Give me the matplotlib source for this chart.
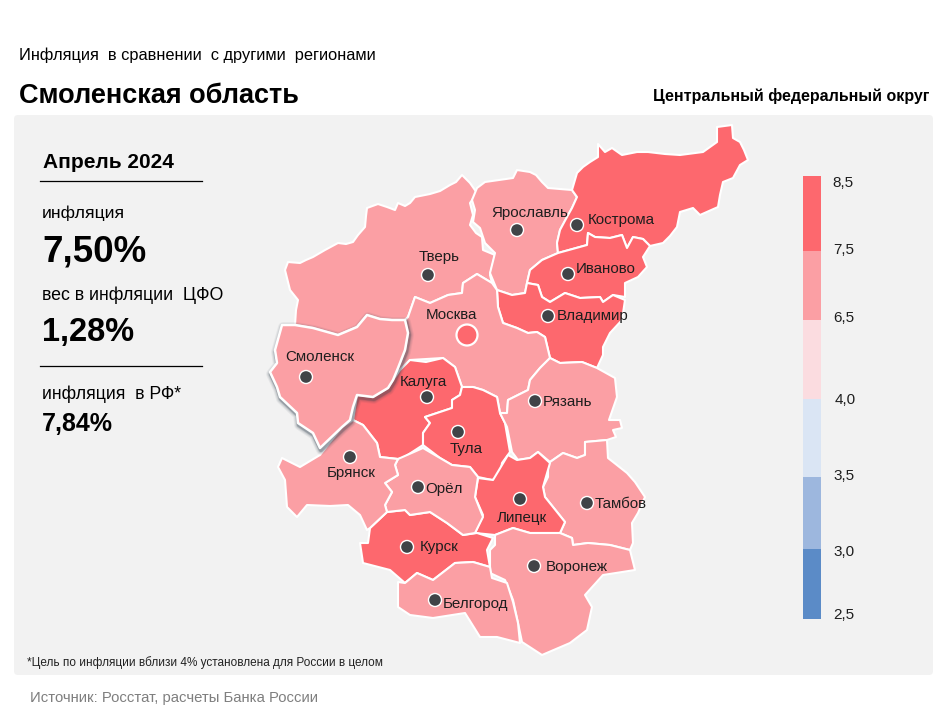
import matplotlib
matplotlib.use("Agg")
import matplotlib.pyplot as plt
from matplotlib.patches import Polygon, Rectangle, FancyBboxPatch, Circle
import numpy as np

plt.rcParams['font.family'] = ['Liberation Sans', 'DejaVu Sans']

# ---- data ----
legend_edges = [2.5, 3.0, 3.5, 4.0, 6.5, 7.5, 8.5]
legend_labels = ["2,5", "3,0", "3,5", "4,0", "6,5", "7,5", "8,5"]
legend_colors = ["#5B8BC7", "#9DB7DE", "#DAE5F4", "#FBDCE0", "#FB9FA4", "#FD686E"]
legend_seg_y = [619, 549, 477, 399, 320, 251, 176]
legend_lab_y = [615, 552, 476, 400, 318, 250, 183]
legend_lab_x = [844, 844, 844, 845, 844, 844, 843]

regions = ["Тверь", "Ярославль", "Кострома", "Иваново", "Владимир", "Москва", "Калуга", "Тула",
           "Рязань", "Тамбов", "Липецк", "Воронеж", "Курск", "Белгород", "Орёл", "Брянск", "Смоленск"]
values = [7.2, 7.1, 7.9, 7.8, 7.7, 7.3, 8.0, 7.9, 7.2, 7.0, 7.8, 7.1, 8.0, 7.0, 7.2, 7.3, 7.5]

tver = [(285,270),(288,262),(300,263),(306,260),(313,257),(325,250),(338,243),(346,244),(353,242),(358,235),(365,227),(366,216),(367,208),(378,204),(387,207),(395,210),(398,203),(405,206),(410,203),(415,197),(430,194),(440,191),(450,185),(456,182),(462,175),(470,183),(477,193),(470,203),(473,215),(470,225),(476,233),(482,237),(483,250),(495,255),(490,275),(492,283),(487,280),(477,274),(463,283),(462,293),(448,295),(430,303),(415,297),(408,317),(405,320),(392,320),(380,319),(367,315),(357,327),(338,335),(313,328),(295,325),(296,310),(298,300),(290,290)]
yaroslavl = [(472,200),(477,188),(485,182),(499,180),(513,178),(517,170),(530,172),(536,175),(542,182),(548,188),(560,189),(572,190),(577,197),(572,208),(567,217),(560,230),(557,243),(558,253),(542,260),(530,270),(527,283),(525,293),(512,295),(503,292),(497,290),(490,273),(495,253),(485,243),(480,228),(473,222),(475,210)]
kostroma = [(572,190),(577,173),(583,167),(590,162),(598,157),(598,144),(605,152),(612,148),(622,155),(637,152),(648,152),(665,154),(680,155),(703,152),(717,142),(717,127),(732,125),(733,138),(740,142),(744,150),(748,160),(740,165),(733,178),(723,182),(720,195),(718,207),(700,215),(693,208),(680,212),(677,227),(670,236),(663,243),(650,246),(643,239),(633,237),(627,248),(622,235),(610,238),(595,237),(588,233),(587,245),(558,253),(557,243),(560,230),(567,217),(572,208),(577,197)]
ivanovo = [(558,253),(587,245),(588,233),(595,237),(610,238),(622,235),(627,248),(633,237),(643,239),(650,246),(643,257),(647,267),(638,277),(625,283),(625,297),(613,295),(603,302),(600,297),(580,298),(565,293),(550,302),(542,297),(538,285),(527,283),(530,270),(542,260)]
vladimir = [(497,290),(503,292),(512,295),(525,293),(527,283),(538,285),(542,297),(550,302),(565,293),(580,298),(600,297),(603,302),(613,295),(625,300),(622,320),(610,333),(603,347),(603,355),(597,368),(582,362),(560,363),(550,358),(545,337),(537,332),(528,333),(517,328),(503,323),(498,307)]
moscow = [(405,320),(408,317),(415,297),(430,303),(448,295),(462,293),(463,283),(477,274),(487,280),(492,283),(497,290),(498,307),(503,323),(517,328),(528,333),(537,332),(545,337),(550,358),(540,368),(530,380),(528,390),(508,400),(507,413),(500,413),(497,397),(483,390),(473,387),(462,387),(455,367),(443,358),(410,360),(400,370),(393,380),(398,368),(405,350),(408,333)]
kaluga = [(393,380),(400,370),(410,360),(426,362),(443,358),(455,367),(462,387),(460,395),(452,400),(452,408),(440,412),(425,417),(430,423),(423,433),(423,445),(403,458),(398,459),(380,457),(377,443),(363,425),(353,420),(357,395),(373,397),(388,388)]
tula = [(462,387),(473,387),(483,390),(497,397),(500,413),(505,423),(510,452),(502,463),(500,477),(492,480),(478,477),(470,467),(452,465),(440,458),(423,445),(423,433),(430,423),(425,417),(440,412),(452,408),(452,400),(460,395)]
ryazan = [(507,413),(508,400),(528,390),(530,380),(540,368),(550,358),(560,363),(582,362),(597,368),(615,378),(617,397),(609,420),(620,420),(622,428),(613,430),(616,437),(607,440),(585,442),(585,455),(577,458),(563,453),(550,462),(538,452),(530,458),(518,460),(512,452),(507,427),(505,423),(500,413)]
tambov = [(548,463),(550,462),(563,453),(577,458),(585,455),(585,442),(607,440),(608,458),(627,473),(635,482),(645,497),(638,513),(632,523),(633,543),(630,550),(610,545),(588,543),(573,545),(572,538),(560,533),(565,522),(545,497),(543,487),(548,477)]
lipetsk = [(475,533),(483,515),(475,497),(478,478),(493,480),(502,465),(508,455),(517,460),(530,458),(538,452),(550,463),(543,487),(545,497),(565,522),(560,533),(530,533),(513,528),(495,535)]
voronezh = [(495,535),(513,528),(530,533),(560,533),(572,538),(573,545),(588,543),(610,545),(630,550),(635,570),(603,575),(585,595),(592,607),(587,630),(570,643),(542,655),(522,642),(518,623),(513,600),(505,580),(490,573),(490,550),(495,545)]
kursk = [(370,528),(387,512),(405,510),(410,515),(430,512),(447,523),(463,535),(477,533),(493,538),(487,550),(490,567),(473,562),(455,563),(433,580),(417,573),(405,583),(390,570),(363,563),(360,543),(368,543)]
belgorod = [(398,582),(405,583),(417,573),(433,580),(455,563),(473,562),(490,567),(492,578),(507,583),(513,602),(518,623),(520,643),(497,637),(480,637),(465,613),(433,618),(410,615),(398,607)]
oryol = [(398,459),(423,448),(440,458),(452,465),(470,467),(478,477),(475,497),(483,517),(475,533),(463,535),(447,523),(430,512),(410,515),(405,510),(387,512),(385,505),(392,492),(385,483),(398,475),(395,465)]
bryansk = [(278,467),(282,458),(300,467),(320,455),(342,427),(353,420),(363,425),(377,443),(380,457),(398,459),(395,465),(398,475),(385,483),(392,492),(385,505),(387,512),(370,528),(367,530),(360,515),(348,505),(330,506),(307,505),(297,517),(287,507),(285,480)]
smolensk = [(282,325),(295,325),(313,328),(338,335),(357,327),(367,315),(380,319),(392,320),(405,320),(408,333),(405,350),(398,368),(393,380),(388,388),(373,397),(357,395),(353,407),(350,420),(342,427),(320,448),(313,433),(298,423),(297,413),(280,397),(277,387),(270,372),(277,363),(275,350)]
shapes = [tver, yaroslavl, kostroma, ivanovo, vladimir, moscow, kaluga, tula, ryazan, tambov,
          lipetsk, voronezh, kursk, belgorod, oryol, bryansk, smolensk]

dot_x = [428, 517, 577, 568, 548, 467, 427, 458, 535, 587, 520, 534, 407, 435, 418, 350, 306]
dot_y = [275, 230, 225, 274, 316, 335, 397, 432, 401, 503, 499, 566, 547, 600, 487, 457, 377]
lab_x = [439, 530, 621, 606, 593, 451, 423, 466, 568, 621, 522, 577, 439, 476, 444, 351, 320]
lab_y = [257, 213, 220, 269, 316, 315, 382, 449, 402, 504, 518, 567, 547, 604, 489, 473, 357]

# ---- figure ----
fig = plt.figure(figsize=(9.5, 7.13), dpi=100)
ax = fig.add_axes([0, 0, 1, 1])
ax.set_xlim(0, 950)
ax.set_ylim(713, 0)
ax.axis("off")

ax.add_patch(FancyBboxPatch((17, 118), 913, 554, boxstyle="round,pad=3,rounding_size=4",
                            fc="#F2F2F2", ec="none", zorder=0))

def colour(v):
    return legend_colors[int(np.clip(np.digitize(v, legend_edges, right=True) - 1, 0, 5))]

for name, shape, v in zip(regions, shapes, values):
    if name == "Смоленск":
        continue
    ax.add_patch(Polygon(shape, closed=True, fc=colour(v), ec="white", lw=1.5, joinstyle="round", zorder=2))

# highlighted region with a soft shadow
i = regions.index("Смоленск")
off = [(x + 1, y + 2) for x, y in smolensk]
for lw, a in zip([7, 5.5, 4, 3], [0.07, 0.10, 0.16, 0.25]):
    ax.add_patch(Polygon(off, closed=True, fc="none", ec="#33404F", lw=lw, alpha=a, joinstyle="round", zorder=3))
ax.add_patch(Polygon(smolensk, closed=True, fc=colour(values[i]), ec="white", lw=1.8, joinstyle="round", zorder=4))

# points and labels
for name, x, y, lx, ly in zip(regions, dot_x, dot_y, lab_x, lab_y):
    if name == "Москва":
        ax.add_patch(Circle((x, y), 10.5, fc="#FD686E", ec="white", lw=1.6, zorder=5))
    else:
        ax.add_patch(Circle((x, y), 6.5, fc="#404347", ec="white", lw=1.0, zorder=5))
    ax.text(lx, ly, name, fontsize=10.9, color="#1E1E1E", ha="center", va="center", zorder=6)

# legend
for k, c in enumerate(legend_colors):
    ax.add_patch(Rectangle((803, legend_seg_y[k + 1]), 18, legend_seg_y[k] - legend_seg_y[k + 1], fc=c, ec="none", zorder=2))
for t, x, y in zip(legend_labels, legend_lab_x, legend_lab_y):
    ax.text(x, y, t, fontsize=11, color="#1E1E1E", ha="center", va="center")

# headings
ax.text(19, 55.5, "Инфляция  в сравнении  с другими  регионами", fontsize=11.75, color="black", va="center")
ax.text(19, 96, "Смоленская область", fontsize=19.5, fontweight="bold", color="black", va="center")
ax.text(929, 96, "Центральный федеральный округ", fontsize=11.5, fontweight="bold", color="black", va="center", ha="right")

# side panel
ax.text(43, 162, "Апрель 2024", fontsize=15, fontweight="bold", color="black", va="center")
ax.plot([40, 202], [181, 181], color="black", lw=0.9)
ax.text(42, 213, "инфляция", fontsize=12.6, color="black", va="center")
ax.text(42, 252, "7,50%", fontsize=26.5, fontweight="bold", color="black", va="center")
ax.text(42, 295, "вес в инфляции  ЦФО", fontsize=12.8, color="black", va="center")
ax.text(42, 333, "1,28%", fontsize=23.5, fontweight="bold", color="black", va="center")
ax.plot([40, 202], [366, 366], color="black", lw=0.9)
ax.text(42, 394, "инфляция  в РФ*", fontsize=12.7, color="black", va="center")
ax.text(42, 424, "7,84%", fontsize=18, fontweight="bold", color="black", va="center")

ax.text(27, 663, "*Цель по инфляции вблизи 4% установлена для России в целом", fontsize=8.5, color="#222222", va="center")
ax.text(30, 698, "Источник: Росстат, расчеты Банка России", fontsize=10.7, color="#7F7F7F", va="center")

fig.savefig("out.png", dpi=100)
